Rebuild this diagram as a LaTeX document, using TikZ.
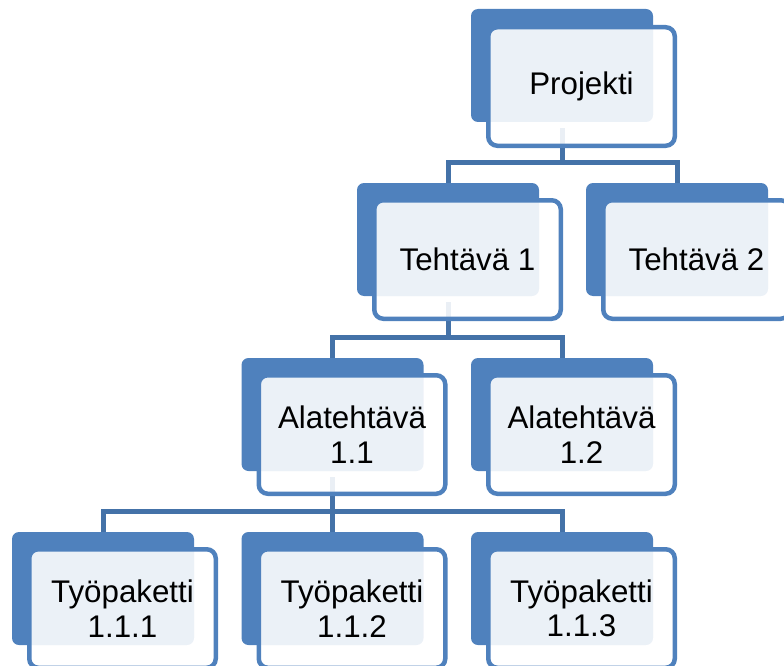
\documentclass[tikz,border=0pt]{standalone}
\usepackage{fontspec}
\setmainfont{Liberation Sans}
\usetikzlibrary{calc,backgrounds}
\definecolor{accent}{RGB}{79,129,189}
\definecolor{connblue}{RGB}{68,114,168}
\tikzset{
  backbox/.style={fill=accent, rounded corners=7pt, minimum width=182pt, minimum height=113pt, inner sep=0pt, outer sep=0pt},
  frontbox/.style={draw=accent, line width=4.5pt, fill=white, fill opacity=0.89, draw opacity=1, text opacity=1, rounded corners=9pt, minimum width=186.5pt, minimum height=118.5pt, inner sep=0pt, align=center, text=black, font=\fontsize{31.3}{34.5}\selectfont},
  conn/.style={draw=connblue, line width=5pt},
}
\begin{document}
\begin{tikzpicture}[x=1pt,y=-1pt]
\useasboundingbox (0,0) rectangle (784,666);
\clip (0,0) rectangle (784,666);
% back boxes
\node[backbox] (p)  at (562,65.5) {};
\node[frontbox] (pf) at ($(p)+(19.5,21)$) {Projekti};
\node[backbox] (t1) at (448,239.5) {};
\node[frontbox] (t1f) at ($(t1)+(19.5,20)$) {Tehtävä 1};
\node[backbox] (t2) at (677,239.5) {};
\node[frontbox] (t2f) at ($(t2)+(19.5,20)$) {Tehtävä 2};
\node[backbox] (a1) at (332.5,414.5) {};
\node[frontbox] (a1f) at ($(a1)+(19.5,20)$) {Alatehtävä\\1.1};
\node[backbox] (a2) at (562,414.5) {};
\node[frontbox] (a2f) at ($(a2)+(19.5,20)$) {Alatehtävä\\1.2};
\node[backbox] (w1) at (103,588.5) {};
\node[frontbox] (w1f) at ($(w1)+(19.5,20)$) {Työpaketti\\1.1.1};
\node[backbox] (w2) at (332.5,588.5) {};
\node[frontbox] (w2f) at ($(w2)+(19.5,20)$) {Työpaketti\\1.1.2};
\node[backbox] (w3) at (562,588.5) {};
\node[frontbox] (w3f) at ($(w3)+(19.5,20)$) {Työpaketti\\1.1.3};
\coordinate (bar1) at (0,162.5);
\coordinate (bar2) at (0,337.5);
\coordinate (bar3) at (0,511.5);
\begin{scope}[on background layer]
  \draw[conn] ($(p.south)+(0,6)$) -- (p.south |- bar1);
  \draw[conn] (t1.north) -- (t1.north |- bar1) -- (t2.north |- bar1) -- (t2.north);
  \draw[conn] ($(t1.south)+(0,6)$) -- (t1.south |- bar2);
  \draw[conn] (a1.north) -- (a1.north |- bar2) -- (a2.north |- bar2) -- (a2.north);
  \draw[conn] ($(a1.south)+(0,6)$) -- (a1.south |- bar3);
  \draw[conn] (w1.north) -- (w1.north |- bar3) -- (w3.north |- bar3) -- (w3.north);
  \draw[conn] (w2.north) -- (w2.north |- bar3);
\end{scope}
\end{tikzpicture}
\end{document}
